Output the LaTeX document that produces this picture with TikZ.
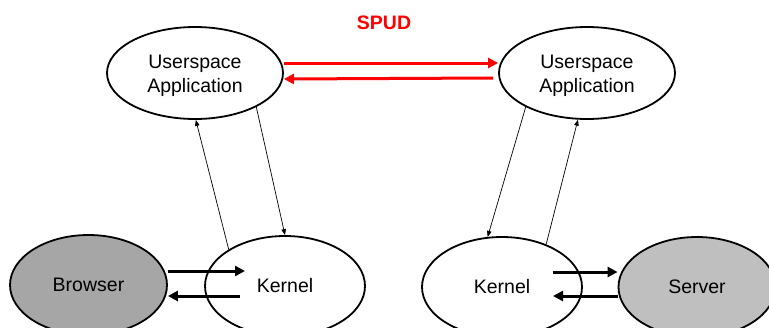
\documentclass[tikz,border=0pt]{standalone}
\usepackage{fontspec}
\setmainfont{Liberation Sans}
\usetikzlibrary{shapes.geometric,arrows.meta}
\definecolor{spudred}{RGB}{255,0,0}
\definecolor{browsergray}{RGB}{166,166,166}
\definecolor{servergray}{RGB}{191,191,191}
\tikzset{
  txt/.style={font=\fontsize{19.5}{24}\selectfont, align=center, inner sep=0pt},
  proc/.style={ellipse, draw=black, line width=1.8pt, inner sep=0pt, txt},
  appnode/.style={proc, minimum width=176pt, minimum height=92pt},
  kernode/.style={proc, fill=white, minimum width=160pt, minimum height=100pt},
  endnode/.style={proc, minimum width=157pt, minimum height=100pt},
  syscall/.style={line width=0.7pt, -{Triangle[length=6pt,width=4.5pt]}},
  pipe/.style={line width=3pt, -{Triangle[length=10pt,width=10pt]}},
  tunnel/.style={pipe, draw=spudred, fill=spudred},
}
\begin{document}
\begin{tikzpicture}[x=1pt,y=-1pt]
  \useasboundingbox (0,0) rectangle (769,327);
  \clip (0,0) rectangle (769,327);

  % the two endpoints' applications
  \node[appnode] (appL) at (195,73) {};
  \node[appnode] (appR) at (587,73) {};
  \node[txt] (appLtext) at ([yshift=-3pt]appL.center) {Userspace\\Application};
  \node[txt] (appRtext) at ([yshift=-3pt]appR.center) {Userspace\\Application};

  % hosts and their kernels
  \node[endnode, fill=browsergray] (browser) at (88.5,285) {Browser};
  \node[kernode] (kerL) at (285,286) {Kernel};
  \node[kernode] (kerR) at (502,287) {Kernel};
  \node[endnode, fill=servergray] (server) at (697,287) {Server};

  % the SPUD tunnel between the applications
  \node[font=\fontsize{19.5}{22}\selectfont\bfseries, text=spudred] (spud) at (384,23) {SPUD};
  \draw[tunnel] ([yshift=10pt]appL.east) -- ([yshift=10pt]appR.west);
  \draw[tunnel] ([xshift=-5pt,yshift=-5pt]appR.west) -- ([yshift=-6pt]appL.east);

  % system calls between application and kernel
  \draw[syscall] (kerL.147) -- (appL.-89);
  \draw[syscall] (appL.-29) -- (kerL.90);
  \draw[syscall] (appR.-151) -- (kerR.106);
  \draw[syscall] (kerR.44) -- (appR.-101);

  % traffic between the hosts and their kernels
  \coordinate (kLin)  at ([xshift=-40pt,yshift=15pt]kerL.center);
  \coordinate (kLout) at ([xshift=-45pt,yshift=-10pt]kerL.center);
  \coordinate (kRout) at ([xshift=51pt,yshift=15pt]kerR.center);
  \coordinate (kRin)  at ([xshift=51pt,yshift=-9pt]kerR.center);
  \draw[pipe] ([yshift=14pt]browser.east) -- (kLin);
  \draw[pipe] (kLout) -- ([yshift=-11pt]browser.east);
  \draw[pipe] (kRout) -- (server.west |- kRout);
  \draw[pipe] (server.west |- kRin) -- (kRin);
\end{tikzpicture}
\end{document}
